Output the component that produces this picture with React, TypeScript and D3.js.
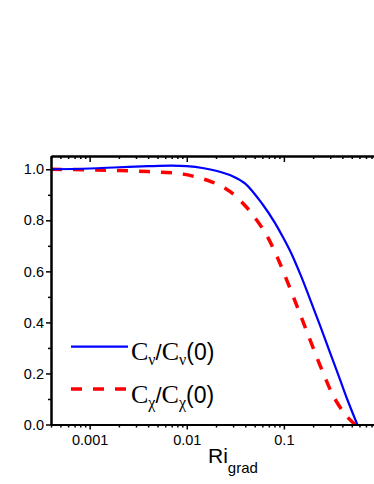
import React, { useEffect, useRef } from 'react';
import * as d3 from 'd3';

// C_nu / C_nu(0) (solid blue)
const riNu = [0.0004, 0.001, 0.002, 0.004, 0.007, 0.01, 0.015, 0.02, 0.03, 0.04, 0.06, 0.08, 0.1, 0.12, 0.15, 0.18, 0.235, 0.3, 0.378, 0.45, 0.57];
const cNu = [1.0, 1.003, 1.008, 1.012, 1.014, 1.012, 1.004, 0.994, 0.972, 0.944, 0.864, 0.793, 0.727, 0.668, 0.582, 0.505, 0.389, 0.28, 0.177, 0.098, 0.0];

// C_chi / C_chi(0) (dashed red)
const riChi = [0.0004, 0.001, 0.002, 0.004, 0.007, 0.0095, 0.013, 0.018, 0.025, 0.031, 0.04, 0.048, 0.06, 0.069, 0.087, 0.111, 0.14, 0.178, 0.235, 0.28, 0.322, 0.408, 0.47, 0.54];
const cChi = [1.0, 0.998, 0.995, 0.991, 0.986, 0.98, 0.968, 0.951, 0.925, 0.899, 0.857, 0.821, 0.769, 0.73, 0.649, 0.551, 0.453, 0.35, 0.233, 0.163, 0.112, 0.05, 0.022, 0.0];

const xMajor = [0.001, 0.01, 0.1];
const xLabels = ['0.001', '0.01', '0.1'];
const yMajor = [0, 0.2, 0.4, 0.6, 0.8, 1.0];
const yMinor = [0.1, 0.3, 0.5, 0.7, 0.9];

const W = 374;
const H = 484;

const App = () => {
  const svgRef = useRef<SVGSVGElement>(null);

  useEffect(() => {
    const svg = d3.select(svgRef.current);
    svg.selectAll('*').remove();

    const left = 51, right = 381, top = 156, bottom = 424.5;

    const x = d3.scaleLog().domain([0.0004, 1]).range([left, right]);
    const y = d3.scaleLinear().domain([0, 1.052]).range([bottom, top]);

    // minor log ticks: 2..9 of each decade inside the domain
    const xMinor: number[] = [];
    [0.0001, 0.001, 0.01, 0.1].forEach(d => {
      for (let k = 2; k <= 9; k++) {
        const v = d * k;
        if (v >= 0.0004 && v <= 1) xMinor.push(v);
      }
    });

    const font = '"Liberation Sans", Arial, sans-serif';

    // curves
    const lineNu = d3.line<number>()
      .x((_, i) => x(riNu[i]))
      .y(d => y(d))
      .curve(d3.curveCatmullRom.alpha(0.5));
    const lineChi = d3.line<number>()
      .x((_, i) => x(riChi[i]))
      .y(d => y(d))
      .curve(d3.curveCatmullRom.alpha(0.5));

    svg.append('path')
      .attr('d', lineChi(cChi))
      .attr('fill', 'none')
      .attr('stroke', '#ff0000')
      .attr('stroke-width', 3.5)
      .attr('stroke-dasharray', '11,11');

    svg.append('path')
      .attr('d', lineNu(cNu))
      .attr('fill', 'none')
      .attr('stroke', '#0000ff')
      .attr('stroke-width', 2.2);

    // bottom axis
    const gB = svg.append('g').attr('transform', `translate(0,${bottom})`);
    gB.call(d3.axisBottom(x).tickValues(xMinor).tickSize(3).tickSizeOuter(0).tickFormat(() => ''));
    gB.append('g').call(d3.axisBottom(x).tickValues(xMajor).tickSize(5).tickSizeOuter(0)
      .tickFormat((_, i) => xLabels[i]).tickPadding(5));

    // top axis, ticks pointing in
    const gT = svg.append('g').attr('transform', `translate(0,${top})`);
    gT.call(d3.axisTop(x).tickValues(xMinor).tickSize(-3).tickSizeOuter(0).tickFormat(() => ''));
    gT.append('g').call(d3.axisTop(x).tickValues(xMajor).tickSize(-6).tickSizeOuter(0).tickFormat(() => ''));

    // left axis
    const gL = svg.append('g').attr('transform', `translate(${left},0)`);
    gL.call(d3.axisLeft(y).tickValues(yMinor).tickSize(3).tickSizeOuter(0).tickFormat(() => ''));
    gL.append('g').call(d3.axisLeft(y).tickValues(yMajor).tickSize(5).tickSizeOuter(0)
      .tickFormat(d3.format('.1f')).tickPadding(2));

    svg.selectAll('.domain').attr('stroke', '#000').attr('stroke-width', 2);
    svg.selectAll('.tick line').attr('stroke', '#000').attr('stroke-width', 1.5);
    svg.selectAll('.tick text')
      .attr('fill', '#000')
      .style('font-family', font)
      .style('font-size', '14.5px');

    // x axis title
    const xt = svg.append('text')
      .attr('x', 208)
      .attr('y', 463)
      .style('font-family', font)
      .style('font-size', '21px');
    xt.append('tspan').text('Ri');
    xt.append('tspan').attr('dy', 10).style('font-size', '15px').text('grad');

    // legend
    const legend = [
      { label: 'ν', color: '#0000ff', width: 2.2, dash: null, yy: 346.7 },
      { label: 'χ', color: '#ff0000', width: 3.5, dash: '11,11', yy: 389 },
    ];
    legend.forEach(l => {
      svg.append('line')
        .attr('x1', 71).attr('x2', 128)
        .attr('y1', l.yy).attr('y2', l.yy)
        .attr('stroke', l.color)
        .attr('stroke-width', l.width)
        .attr('stroke-dasharray', l.dash);

      const serif = '"Liberation Serif", "Times New Roman", serif';
      const t = svg.append('text').attr('x', 131).attr('y', l.yy + 13.5);
      t.append('tspan').style('font-family', serif).style('font-size', '26px').text('C');
      t.append('tspan').attr('dy', 5).style('font-family', serif).style('font-size', '16px').text(l.label);
      t.append('tspan').attr('dy', -5).style('font-family', font).style('font-size', '22px').text('/');
      t.append('tspan').style('font-family', serif).style('font-size', '26px').text('C');
      t.append('tspan').attr('dy', 5).style('font-family', serif).style('font-size', '16px').text(l.label);
      t.append('tspan').attr('dy', -5).style('font-family', font).style('font-size', '23px').text('(0)');
    });
  }, []);

  return (
    <svg
      ref={svgRef}
      width={W}
      height={H}
      style={{ position: 'absolute', left: 0, top: 0, display: 'block', background: '#fff' }}
    />
  );
};

export default App;
